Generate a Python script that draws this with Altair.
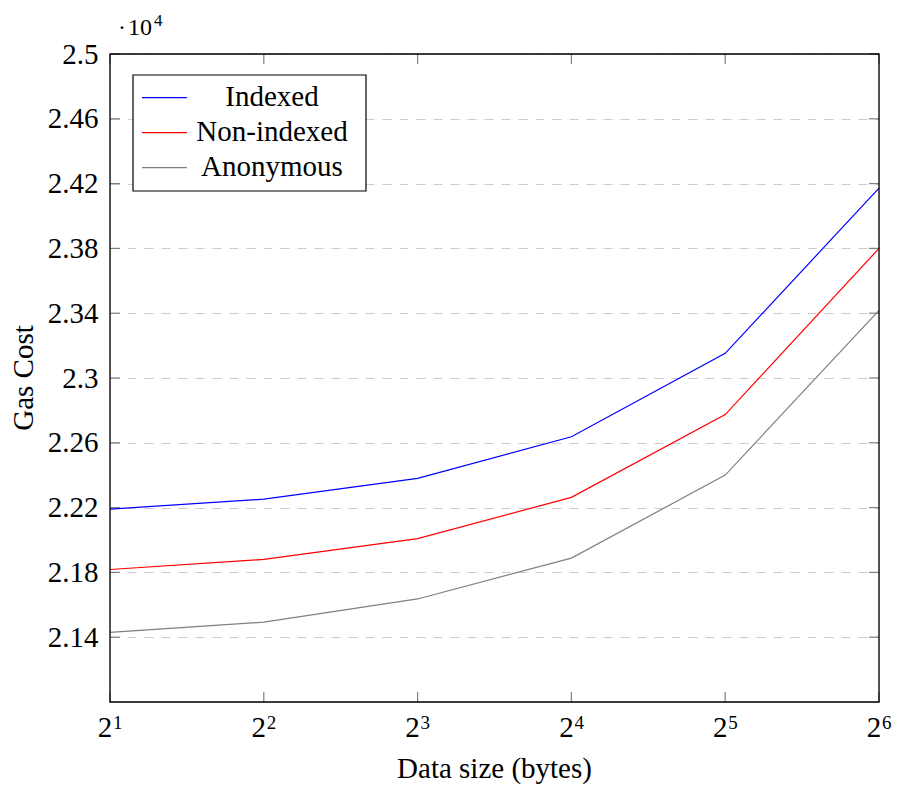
import altair as alt
import pandas as pd

# ---- data ----
sizes = [2, 4, 8, 16, 32, 64]
series = ["Indexed", "Non-indexed", "Anonymous"]
indexed = [22190, 22252, 22380, 22637, 23152, 24172]
non_indexed = [21818, 21880, 22009, 22263, 22774, 23800]
anonymous = [21430, 21493, 21636, 21888, 22401, 23417]
colors = ["#0000ff", "#ff0000", "#808080"]

yticks = [21400, 21800, 22200, 22600, 23000, 23400, 23800, 24200, 24600, 25000]
xticks = [2, 4, 8, 16, 32, 64]
xtick_exps = ["1", "2", "3", "4", "5", "6"]

W, H = 769, 648
FONT = "Liberation Serif"
FS = 29

rows = []
for name, vals in zip(series, [indexed, non_indexed, anonymous]):
    for s, v in zip(sizes, vals):
        rows.append({"series": name, "size": s, "gas": v})
df = pd.DataFrame(rows)

xdf = pd.DataFrame({"v": xticks, "exp": xtick_exps, "base": ["2"] * len(xticks)})
ydf = pd.DataFrame({"v": yticks})

xscale = alt.Scale(type="log", base=2, domain=[2, 64], nice=False)
yscale = alt.Scale(domain=[21000, 25000], nice=False, zero=False)
cscale = alt.Scale(domain=series, range=colors)

one = pd.DataFrame({"a": [0]})

# grid + y labels
grid = alt.Chart(ydf).mark_rule(opacity=0).encode(
    y=alt.Y("v:Q", scale=yscale, title=None,
            axis=alt.Axis(values=yticks, labelExpr="datum.value/10000 + ''",
                          labelFont=FONT, labelFontSize=FS, labelColor="black",
                          ticks=False, tickSize=0, domain=False, labelPadding=12,
                          grid=True, gridDash=[9, 8], gridColor="#cccccc",
                          gridWidth=1.2)),
    x=alt.value(0), x2=alt.value(W),
)

ytick_l = alt.Chart(ydf).mark_rule(color="#808080", strokeWidth=1.2).encode(
    y=alt.Y("v:Q", scale=yscale), x=alt.value(0), x2=alt.value(10))
ytick_r = alt.Chart(ydf).mark_rule(color="#808080", strokeWidth=1.2).encode(
    y=alt.Y("v:Q", scale=yscale), x=alt.value(W - 10), x2=alt.value(W))
xtick_b = alt.Chart(xdf).mark_rule(color="#808080", strokeWidth=1.2).encode(
    x=alt.X("v:Q", scale=xscale, axis=None), y=alt.value(H - 10), y2=alt.value(H))
xtick_t = alt.Chart(xdf).mark_rule(color="#808080", strokeWidth=1.2).encode(
    x=alt.X("v:Q", scale=xscale, axis=None), y=alt.value(0), y2=alt.value(10))

xlab_base = alt.Chart(xdf).mark_text(font=FONT, fontSize=FS, align="center",
                                     baseline="alphabetic", dx=-5, color="black").encode(
    x=alt.X("v:Q", scale=xscale, axis=None), y=alt.value(683), text="base:N")
xlab_exp = alt.Chart(xdf).mark_text(font=FONT, fontSize=19, align="left",
                                    baseline="alphabetic", dx=3, color="black").encode(
    x=alt.X("v:Q", scale=xscale, axis=None), y=alt.value(675), text="exp:N")

lines = alt.Chart(df).mark_line(strokeWidth=1.2).encode(
    x=alt.X("size:Q", scale=xscale, axis=None),
    y=alt.Y("gas:Q", scale=yscale),
    color=alt.Color("series:N", scale=cscale, legend=None),
)

frame = alt.Chart(one).mark_rect(fillOpacity=0, stroke="black", strokeWidth=1.3).encode(
    x=alt.value(0), x2=alt.value(W), y=alt.value(0), y2=alt.value(H))

# legend (manual, centered labels)
legend_layers = [
    alt.Chart(one).mark_rect(fill="white", stroke="black", strokeWidth=1.2).encode(
        x=alt.value(23), x2=alt.value(256), y=alt.value(21), y2=alt.value(137))
]
for i, name in enumerate(series):
    ldf = pd.DataFrame({"series": [name]})
    legend_layers.append(
        alt.Chart(ldf).mark_rule(strokeWidth=1.2).encode(
            x=alt.value(32), x2=alt.value(77), y=alt.value(43.7 + 35 * i),
            color=alt.Color("series:N", scale=cscale, legend=None)))
    legend_layers.append(
        alt.Chart(ldf).mark_text(font=FONT, fontSize=FS, align="center",
                                 baseline="alphabetic", color="black").encode(
            x=alt.value(162), y=alt.value(52 + 35 * i), text="series:N"))

# titles
tdf = pd.DataFrame({"t": ["Data size (bytes)"]})
xtitle = alt.Chart(tdf).mark_text(font=FONT, fontSize=FS, align="center",
                                  baseline="alphabetic", color="black").encode(
    x=alt.value(W / 2), y=alt.value(724), text="t:N")
ydf_t = pd.DataFrame({"t": ["Gas Cost"]})
ytitle = alt.Chart(ydf_t).mark_text(font=FONT, fontSize=FS, align="center",
                                    baseline="alphabetic", angle=270, color="black").encode(
    x=alt.value(-77), y=alt.value(H / 2), text="t:N")
sdf = pd.DataFrame({"d": ["·"], "t": ["10"], "e": ["4"]})
scale_dot = alt.Chart(sdf).mark_text(font=FONT, fontSize=24, align="center",
                                     baseline="alphabetic", color="black").encode(
    x=alt.value(12), y=alt.value(-19), text="d:N")
scale_base = alt.Chart(sdf).mark_text(font=FONT, fontSize=24, align="left",
                                      baseline="alphabetic", color="black").encode(
    x=alt.value(18), y=alt.value(-19), text="t:N")
scale_exp = alt.Chart(sdf).mark_text(font=FONT, fontSize=17, align="left",
                                     baseline="alphabetic", color="black").encode(
    x=alt.value(44), y=alt.value(-28), text="e:N")

chart = alt.layer(
    grid, ytick_l, ytick_r, xtick_b, xtick_t, lines, frame, *legend_layers,
    xlab_base, xlab_exp, xtitle, ytitle, scale_dot, scale_base, scale_exp,
).properties(
    width=W, height=H,
    autosize=alt.AutoSizeParams(type="none"),
    padding={"left": 102, "top": 46, "right": 13, "bottom": 84},
).configure_view(strokeOpacity=0).configure(background="white")

chart.save("out.html", embed_options={"renderer": "svg", "actions": False})
